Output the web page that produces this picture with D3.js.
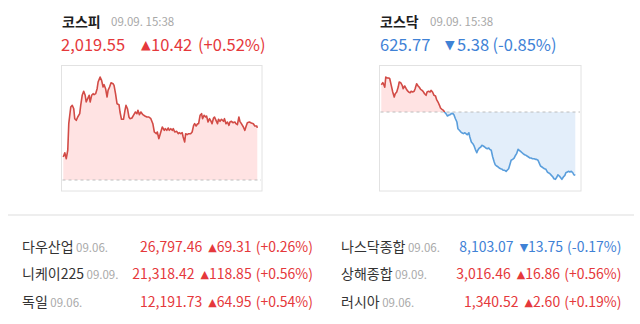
<!DOCTYPE html>
<html><head><meta charset="utf-8">
<script src="https://cdn.jsdelivr.net/npm/d3@7"></script>
<style>
html,body{margin:0;padding:0;background:#fff;}
svg{display:block;font-family:"Noto Sans CJK KR","Noto Sans",sans-serif;}
</style></head>
<body>
<svg id="c" width="640" height="324"></svg>
<script>
// ---- KOSPI intraday (minutes from 09:00) ----
const kospiMinutes = [0,3,6,9,11,15,18,21,23,26,29,33,35,38,41,44,46,49,52,54,57,60,62,65,68,70,74,77,80,82,85,88,90,93,96,100,102,105,108,112,114,117,121,124,126,129,132,134,138,141,145,148,150,153,156,160,164,168,172,176,180,183,187,189,192,195,199,203,205,208,211,213,216,219,221,224,228,231,233,236,239,241,244,246,249,252,256,259,262,264,267,270,272,275,278,280,283,286,288,291,294,296,299,302,304,307,310,312,315,318,322,324,327,330,333,335,338,341,345,347,350,353,355,358,362,365,367,370,374,378,382,385,389,390];
const kospiValues = [2013.73,2014.59,2013.39,2015.13,2020.39,2023.73,2024.07,2023.39,2021.39,2021.07,2021.73,2022.39,2024.07,2026.07,2026.87,2026.07,2024.73,2025.39,2026.07,2024.73,2026.07,2026.39,2026.19,2026.39,2027.39,2028.73,2029.73,2029.07,2027.73,2028.19,2027.39,2025.73,2027.07,2027.73,2028.59,2028.39,2028.07,2026.39,2024.39,2024.19,2022.73,2021.27,2021.27,2023.07,2024.07,2023.39,2021.73,2021.39,2021.53,2022.07,2022.73,2022.39,2023.07,2022.19,2022.73,2022.19,2021.93,2021.73,2021.73,2021.39,2020.39,2018.73,2018.39,2018.73,2017.39,2018.39,2019.73,2019.07,2019.39,2019.07,2019.53,2019.07,2019.39,2019.07,2019.39,2018.73,2018.87,2018.39,2018.59,2018.39,2018.59,2017.73,2016.73,2018.39,2018.19,2018.39,2018.39,2018.73,2020.07,2020.39,2019.93,2020.39,2020.39,2022.07,2022.39,2021.39,2022.07,2021.73,2021.93,2020.73,2021.39,2021.07,2020.39,2021.53,2021.73,2021.07,2020.39,2021.27,2020.87,2021.27,2020.87,2021.39,2020.39,2020.73,2020.07,2020.73,2020.87,2020.59,2020.73,2020.39,2020.19,2021.73,2020.87,2020.39,2019.73,2019.07,2019.73,2020.59,2020.73,2020.53,2020.39,2019.93,2019.93,2019.55];
const kospiPrev = 2009.13;

// ---- KOSDAQ intraday ----
const kosdaqMinutes = [0,3,5,7,9,12,15,17,20,23,26,28,31,34,36,39,42,44,47,50,52,55,58,60,63,66,68,71,74,76,79,82,84,87,90,92,95,98,100,103,106,109,111,114,117,119,122,125,127,130,133,135,138,141,144,146,149,152,154,157,160,162,165,168,170,173,176,178,181,184,186,189,192,194,197,200,202,205,208,210,213,216,218,221,224,227,229,232,235,237,240,243,245,248,251,253,256,259,261,264,267,269,272,275,277,280,283,285,288,291,293,296,299,301,304,307,310,312,315,318,320,323,326,328,331,334,336,339,342,345,347,350,353,355,358,361,363,366,369,371,374,377,379,382,385,387,390];
const kosdaqValues = [633.47,633.64,633.47,633.27,634.12,634.04,634.04,633.98,633.42,632.85,632.42,632.70,632.85,633.27,633.70,633.64,633.42,633.13,633.36,633.13,632.99,632.85,632.79,632.91,632.85,632.91,633.13,633.55,633.36,633.27,633.08,632.99,632.91,632.70,632.57,632.85,632.91,632.85,632.99,632.85,632.57,632.51,632.23,632.00,631.72,631.49,631.38,631.29,631.15,631.01,630.81,630.87,630.92,631.01,631.01,630.92,630.58,630.30,629.73,629.60,629.45,629.39,629.31,629.39,629.31,629.22,629.39,629.03,628.60,628.46,628.32,627.98,627.69,627.90,628.09,628.18,628.32,628.26,628.18,628.09,628.03,628.09,627.98,627.90,627.33,626.90,626.67,626.56,626.48,626.39,626.33,626.28,626.20,626.20,626.11,626.20,626.33,626.76,627.05,627.13,627.24,627.41,627.61,627.98,627.90,627.81,627.69,627.61,627.52,627.47,627.41,627.33,627.24,627.24,627.18,627.18,627.13,627.13,627.05,626.76,626.56,626.48,626.39,626.33,626.28,626.05,625.99,625.91,625.77,625.63,625.48,625.43,625.63,625.82,625.71,625.54,625.43,625.63,625.77,625.99,626.05,626.11,626.05,626.11,625.99,625.82,625.77];
const kosdaqPrev = 631.15;

// ---- headline texts ----
const headNames = ["코스피", "코스닥"];
const headTimes = ["09.09. 15:38", "09.09. 15:38"];
const headPrices = ["2,019.55", "625.77"];
const headChanges = ["10.42", "5.38"];
const headPcts = ["(+0.52%)", "(-0.85%)"];
const headUp = [true, false];

// ---- world indices ----
const worldNames = ["다우산업", "니케이225", "독일", "나스닥종합", "상해종합", "러시아"];
const worldDates = ["09.06.", "09.09.", "09.06.", "09.06.", "09.09.", "09.06."];
const worldValues = ["26,797.46", "21,318.42", "12,191.73", "8,103.07", "3,016.46", "1,340.52"];
const worldChanges = ["69.31", "118.85", "64.95", "13.75", "16.86", "2.60"];
const worldPcts = ["(+0.26%)", "(+0.56%)", "(+0.54%)", "(-0.17%)", "(+0.56%)", "(+0.19%)"];
const worldUp = [true, true, true, false, true, true];

const RED = "#e5383b", BLUE = "#3f82d6";
const LINE_RED = "#d24b46", LINE_BLUE = "#5a9edc";
const FILL_RED = "#ffe3e3", FILL_BLUE = "#e3eefa";

const svg = d3.select("#c");

function drawChart(opts) {
  const g = svg.append("g");
  const {x0, boxW, minutes, values, prev, domain, id} = opts;
  const box = {x: x0, y: 65.5, w: boxW, h: 125.5};
  const x = d3.scaleLinear().domain([0, 390]).range([x0 + 1.8, x0 + 1.8 + 194]);
  const y = d3.scaleLinear().domain(domain).range([191, 66]);
  const data = minutes.map((m, i) => ({m, v: values[i]}));
  const by = y(prev);

  g.append("rect").attr("x", box.x).attr("y", box.y).attr("width", box.w).attr("height", box.h)
    .attr("fill", "#fff").attr("stroke", "#e2e2e2").attr("stroke-width", 1);

  const defs = svg.append("defs");
  defs.append("clipPath").attr("id", id + "up").append("rect")
    .attr("x", box.x).attr("y", box.y).attr("width", box.w).attr("height", by - box.y);
  defs.append("clipPath").attr("id", id + "dn").append("rect")
    .attr("x", box.x).attr("y", by).attr("width", box.w).attr("height", box.y + box.h - by);

  const area = d3.area().x(d => x(d.m)).y0(by).y1(d => y(d.v));
  const line = d3.line().x(d => x(d.m)).y(d => y(d.v));

  g.append("path").datum(data).attr("d", area).attr("fill", FILL_RED).attr("clip-path", `url(#${id}up)`);
  g.append("path").datum(data).attr("d", area).attr("fill", FILL_BLUE).attr("clip-path", `url(#${id}dn)`);

  g.append("line").attr("x1", box.x + 1).attr("x2", box.x + box.w - 1).attr("y1", by).attr("y2", by)
    .attr("stroke", "#bdbdbd").attr("stroke-width", 1).attr("stroke-dasharray", "3,3");

  g.append("path").datum(data).attr("d", line).attr("fill", "none").attr("stroke", LINE_RED)
    .attr("stroke-width", 1.6).attr("stroke-linejoin", "round").attr("clip-path", `url(#${id}up)`);
  g.append("path").datum(data).attr("d", line).attr("fill", "none").attr("stroke", LINE_BLUE)
    .attr("stroke-width", 1.6).attr("stroke-linejoin", "round").attr("clip-path", `url(#${id}dn)`);
}

drawChart({x0: 61.5, boxW: 200.5, minutes: kospiMinutes, values: kospiValues, prev: kospiPrev,
  domain: [2006.93, 2031.93], id: "kospi"});
drawChart({x0: 379.5, boxW: 201.5, minutes: kosdaqMinutes, values: kosdaqValues, prev: kosdaqPrev,
  domain: [624.44, 635.06], id: "kosdaq"});

// headline
const headLayout = [
  {nx: 62, tx: 111, px: 61, trx: 141, cx: 151, pcx: 198},
  {nx: 380, tx: 430, px: 380, trx: 445, cx: 457, pcx: 492.5}
];
headNames.forEach((n, i) => {
  const L = headLayout[i];
  const col = headUp[i] ? RED : BLUE;
  svg.append("text").attr("x", L.nx).attr("y", 27).text(n)
    .attr("font-size", 14).attr("font-weight", "bold").attr("fill", "#1e1e1e");
  svg.append("text").attr("x", L.tx).attr("y", 26).text(headTimes[i])
    .attr("font-size", 11.5).attr("fill", "#a8a8a8");
  svg.append("text").attr("x", L.px).attr("y", 50.5).text(headPrices[i])
    .attr("font-size", 16.5).attr("fill", col);
  svg.append("text").attr("x", L.trx).attr("y", 49).text(headUp[i] ? "▲" : "▼")
    .attr("font-family", "DejaVu Sans").attr("font-size", 12.5).attr("fill", col);
  svg.append("text").attr("x", L.cx).attr("y", 50.5).text(headChanges[i])
    .attr("font-size", 16.5).attr("fill", col);
  svg.append("text").attr("x", L.pcx).attr("y", 50.5).text(headPcts[i])
    .attr("font-size", 16.5).attr("fill", col);
});

// separator
svg.append("rect").attr("x", 8).attr("y", 214).attr("width", 626).attr("height", 2).attr("fill", "#eeeeee");

// world table
worldNames.forEach((n, i) => {
  const colIdx = Math.floor(i / 3), row = i % 3;
  const nx = colIdx === 0 ? 22 : 341;
  const rx = colIdx === 0 ? 313 : 621.5;
  const yy = 251.5 + row * 27.5;
  const col = worldUp[i] ? RED : BLUE;
  const t = svg.append("text").attr("x", nx).attr("y", yy);
  t.append("tspan").text(n).attr("font-size", 14).attr("fill", "#333");
  t.append("tspan").text(" " + worldDates[i]).attr("font-size", 11.5).attr("fill", "#aaa");
  const v = svg.append("text").attr("x", rx).attr("y", yy).attr("text-anchor", "end").attr("fill", col);
  v.append("tspan").text(worldValues[i]).attr("font-size", 14);
  v.append("tspan").text(worldUp[i] ? "▲" : "▼").attr("dx", 6).attr("font-size", 11)
    .attr("font-family", "DejaVu Sans").attr("dy", -1);
  v.append("tspan").text(worldChanges[i]).attr("font-size", 14).attr("dy", 1);
  v.append("tspan").text(worldPcts[i]).attr("font-size", 14).attr("dx", 4);
});
</script>
</body></html>
